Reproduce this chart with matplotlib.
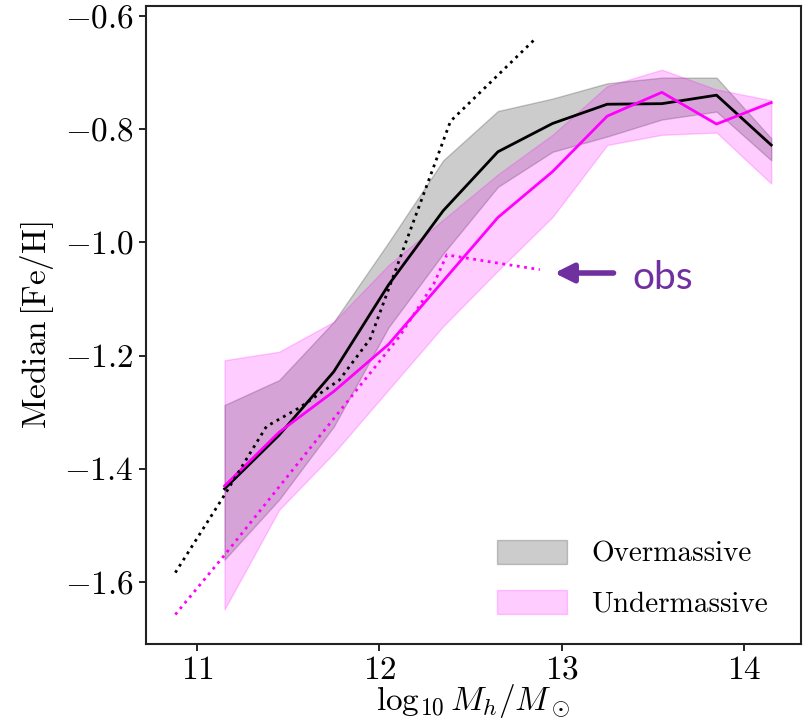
import matplotlib
matplotlib.use("Agg")
import matplotlib.pyplot as plt
import matplotlib.patheffects as pe

# halo mass bins
mh = [11.15, 11.45, 11.75, 12.05, 12.35, 12.65, 12.95, 13.25, 13.55, 13.85, 14.15]

# overmassive: median and 16-84 band
over_med = [-1.435, -1.34, -1.228, -1.075, -0.944, -0.840, -0.790, -0.756, -0.755, -0.740, -0.828]
over_lo = [-1.56, -1.454, -1.325, -1.15, -1.02, -0.902, -0.840, -0.813, -0.783, -0.769, -0.855]
over_hi = [-1.287, -1.243, -1.14, -1.0, -0.855, -0.768, -0.746, -0.719, -0.709, -0.709, -0.816]

# undermassive
under_med = [-1.43, -1.335, -1.263, -1.18, -1.068, -0.956, -0.875, -0.777, -0.735, -0.791, -0.753]
under_lo = [-1.648, -1.472, -1.372, -1.26, -1.148, -1.05, -0.955, -0.828, -0.810, -0.806, -0.896]
under_hi = [-1.208, -1.193, -1.14, -1.04, -0.96, -0.88, -0.81, -0.724, -0.695, -0.730, -0.749]

# observations
obs_k_x = [10.88, 11.14, 11.38, 11.56, 11.78, 11.95, 12.39, 12.86]
obs_k_y = [-1.583, -1.451, -1.325, -1.292, -1.243, -1.17, -0.786, -0.639]
obs_m_x = [10.88, 11.14, 12.11, 12.30, 12.37, 12.66, 12.88]
obs_m_y = [-1.657, -1.556, -1.166, -1.072, -1.022, -1.037, -1.048]

plt.rcParams['font.family'] = 'serif'
plt.rcParams['font.serif'] = ['cmr10']
plt.rcParams['mathtext.fontset'] = 'cm'
plt.rcParams['axes.formatter.use_mathtext'] = True
plt.rcParams['axes.unicode_minus'] = True

fig = plt.figure(figsize=(8.09, 7.28), dpi=100)
ax = fig.add_axes([0.180, 0.1154, 0.810, 0.8768])

ax.fill_between(mh, over_lo, over_hi, color='k', alpha=0.2, label='Overmassive')
ax.fill_between(mh, under_lo, under_hi, color='magenta', alpha=0.2, label='Undermassive')
ax.plot(mh, over_med, color='k', lw=2)
ax.plot(mh, under_med, color='magenta', lw=2)
ax.plot(obs_k_x, obs_k_y, color='k', lw=2, ls=':')
ax.plot(obs_m_x, obs_m_y, color='magenta', lw=2, ls=':')

ax.annotate('', xy=(12.945, -1.054), xytext=(13.30, -1.054),
            arrowprops=dict(arrowstyle='-|>', color='#7030A0', lw=4, mutation_scale=28,
                            path_effects=[pe.withSimplePatchShadow(offset=(1.5, -1.5), alpha=0.25)]))
ax.text(13.39, -1.062, 'obs', color='#7030A0', fontsize=28, family='Lato',
        ha='left', va='center')

ax.set_xlim(10.717, 14.313)
ax.set_ylim(-1.709, -0.582)
ax.set_xticks([11, 12, 13, 14])
ax.set_yticks([-1.6, -1.4, -1.2, -1.0, -0.8, -0.6])
ax.tick_params(labelsize=24, length=5, width=1.2)
for s in ax.spines.values():
    s.set_linewidth(1.5)
    s.set_color('#222222')

ax.set_xlabel(r'$\log_{10} M_h/M_\odot$', fontsize=24, labelpad=-2)
ax.set_ylabel(r'$\mathrm{Median}\,[\mathrm{Fe/H}]$', fontsize=24, labelpad=6)

ax.legend(loc='lower right', bbox_to_anchor=(0.99, 0.0), frameon=False, fontsize=21,
          handlelength=2.4, handleheight=0.9, labelspacing=0.75, handletextpad=0.85)

fig.savefig('out.png', dpi=100)
